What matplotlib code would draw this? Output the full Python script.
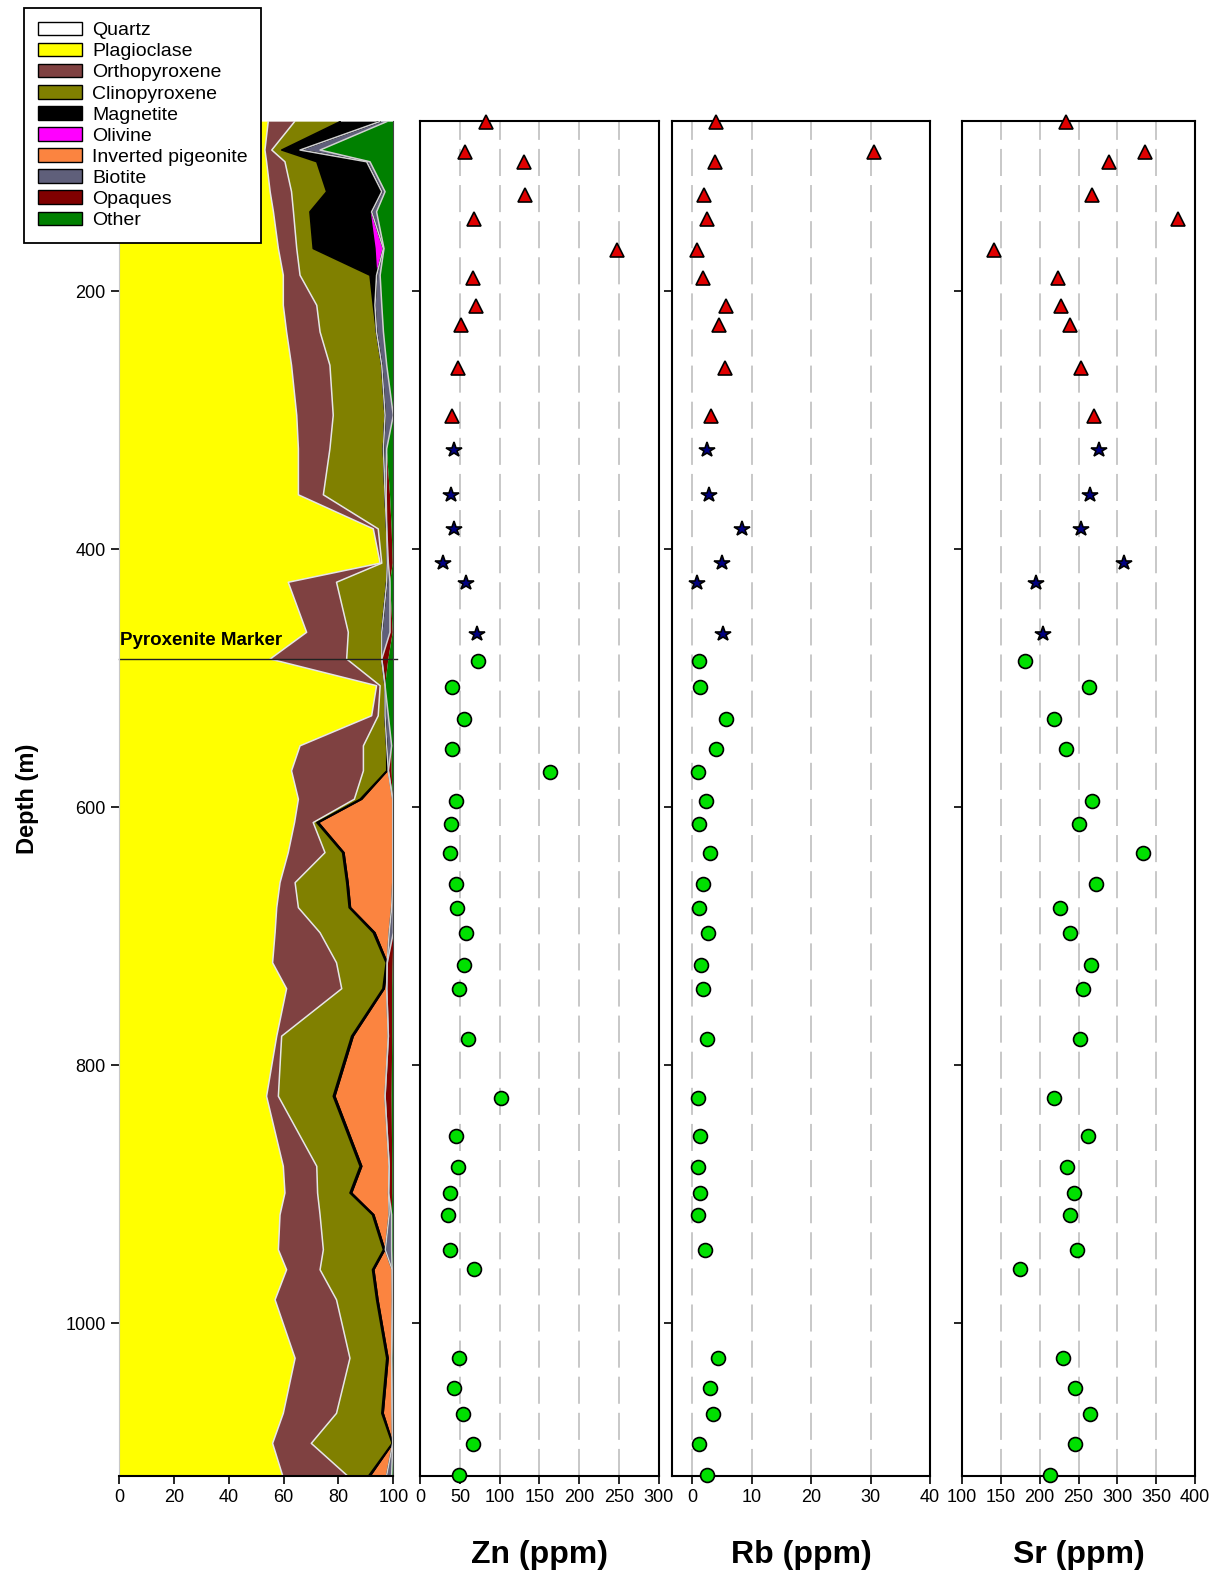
import numpy as np
import matplotlib
matplotlib.use("Agg")
import matplotlib.pyplot as plt
from matplotlib.patches import Patch

plt.rcParams['font.family'] = ['Liberation Sans', 'DejaVu Sans']

# ---- modal mineralogy (vol %) ----
modal_depth = [68.5, 90.5, 99.6, 122.8, 138.4, 166.9, 187.6, 210.9, 231.5, 257.4,
               296.2, 322.1, 357.8, 384.2, 410.8, 425.6, 464.4, 485.1, 505.8, 529.1,
               552.4, 571.8, 593.8, 611.9, 635.2, 658.5, 677.9, 697.3, 720.6, 740.7,
               777.5, 824.1, 878.4, 899.1, 916.0, 943.1, 958.6, 981.9, 1027.2, 1069.9,
               1093.2, 1117.8]
quartz = [0, 0, 0, 0, 0, 0, 0, 0, 0, 0, 0, 0, 0, 0, 0, 0, 0, 0, 0, 0, 0,
          0, 0, 0, 0, 0, 0, 0, 0, 0, 0, 0, 0, 0, 0, 0, 0, 0, 0, 0, 0, 0]
plag = [54.4, 53.2, 53.8, 55.1, 56.3, 58.1, 59.9, 59.9, 61.1, 62.9, 64.8, 65.4, 65.4, 92.7,
        95.2, 61.7, 68.4, 55.1, 93.9, 92.1, 66.0, 62.9, 65.4, 64.0, 61.7, 58.7, 57.5, 56.9,
        56.0, 61.1, 57.5, 53.8, 59.9, 60.5, 58.7, 58.1, 61.1, 56.9, 64.2, 59.9, 56.0, 59.6]
opx = [9.6, 2.5, 6.7, 7.8, 7.3, 6.7, 6.1, 12.2, 12.2, 14.0, 13.3, 11.5, 9.1, 1.8,
       0.6, 17.6, 15.2, 27.9, 1.3, 2.4, 23.1, 26.2, 20.4, 6.8, 13.4, 5.5, 7.9, 16.4,
       23.3, 20.1, 1.8, 4.3, 12.2, 11.9, 14.6, 16.4, 12.2, 22.4, 20.0, 19.4, 14.1, 23.4]
cpx = [16.6, 3.6, 11.6, 12.8, 6.0, 6.0, 25.5, 20.6, 20.6, 18.9, 18.9, 19.5, 22.5, 3.1,
       2.0, 18.3, 12.2, 12.8, 1.8, 2.5, 8.5, 8.5, 2.1, 1.3, 6.4, 18.8, 18.5, 19.4,
       18.1, 15.0, 25.5, 20.0, 15.8, 11.8, 19.1, 21.9, 19.1, 14.6, 13.4, 16.5, 29.5, 8.2]
magnetite = [14.4, 6.7, 18.2, 20.1, 21.9, 22.5, 2.4, 0.6, 0, 0, 0, 0, 0, 0,
             0, 0, 0, 0, 0, 0, 0, 0.2, 0.6, 0.6, 0.5, 0.5, 0.5, 0.6,
             0.4, 0.5, 0.6, 0.6, 0.6, 0.6, 0.5, 0.5, 0.5, 0.5, 0.5, 0.5, 0.2, 0.6]
olivine = [0, 0, 0, 0, 0.6, 3.1, 0, 0, 0, 0, 0, 0, 0, 0, 0, 0, 0, 0, 0, 0, 0,
           0, 0, 0, 0, 0, 0, 0, 0, 0, 0, 0, 0, 0, 0, 0, 0, 0, 0, 0, 0, 0]
pigeonite = [0, 0, 0, 0, 0, 0, 0, 0, 0, 0, 0, 0, 0, 0,
             0, 0, 0, 0, 0, 0, 0, 0.4, 11.3, 27.1, 17.8, 16.3, 15.0, 5.2,
             0, 0.9, 12.8, 18.3, 10.0, 13.5, 5.6, 0.2, 6.7, 5.3, 1.3, 3.3, 0, 5.8]
biotite = [2.6, 7.3, 1.2, 1.2, 1.8, 0.2, 1.3, 2.5, 2.5, 1.8, 3.0, 1.2, 0.4, 0,
           0.4, 1.2, 3.0, 0, 0, 1.2, 1.8, 0, 0, 0, 0, 0, 0.6, 1.5,
           0, 0, 0, 0, 0, 0, 0.9, 2.3, 0, 0, 0, 0, 0, 1.8]
opaques = [0, 0, 0, 0, 0, 0, 0, 0, 0, 0, 0, 0, 1.4, 1.8,
           1.6, 0, 1.0, 2.4, 0, 0, 0, 1.2, 0, 0, 0, 0, 0, 0,
           2.0, 2.0, 1.4, 2.4, 1.1, 1.3, 0, 0, 0, 0, 0, 0, 0, 0]
other = [2.4, 26.7, 8.5, 3.0, 6.1, 3.4, 4.8, 4.2, 3.6, 2.4, 0, 2.4, 1.2, 0.6,
         0.2, 1.2, 0.2, 1.8, 3.0, 1.8, 0.6, 0.6, 0.2, 0.2, 0.2, 0.2, 0, 0,
         0.2, 0.4, 0.4, 0.6, 0.4, 0.4, 0.6, 0.6, 0.4, 0.3, 0.6, 0.4, 0.2, 0.6]
marker_depth = 485.1

# ---- whole-rock trace elements (ppm) ----
depth = [68.5, 92.3, 99.5, 125.5, 143.6, 168.0, 189.6, 211.3, 226.4, 259.5, 296.7,
         322.9, 357.8, 384.2, 410.8, 426.4, 465.7,
         486.4, 506.6, 531.9, 555.0, 572.6, 595.1, 612.7, 635.7, 659.2, 677.9, 697.3,
         722.6, 740.7, 779.9, 825.4, 855.2, 878.7, 899.1, 916.2, 942.9, 958.4, 1027.0,
         1050.4, 1070.2, 1093.5, 1117.8]
group = ['tri'] * 11 + ['star'] * 6 + ['circ'] * 26
zn = [83, 56, 130, 132, 68, 248, 66, 70, 51, 48, 40,
      42, 39, 43, 29, 58, 71,
      73, 40, 55, 40, 163, 45, 39, 37, 45, 46, 58, 55, 49, 60, 102, 45, 48, 38, 35,
      38, 68, 49, 42, 54, 67, 49]
rb = [3.9, 30.5, 3.8, 2.0, 2.5, 0.7, 1.7, 5.6, 4.5, 5.5, 3.1,
      2.5, 2.7, 8.4, 4.9, 0.8, 5.2,
      1.1, 1.2, 5.6, 4.0, 1.0, 2.2, 1.1, 3.0, 1.7, 1.1, 2.6, 1.5, 1.7, 2.4, 0.9,
      1.2, 0.9, 1.3, 1.0, 2.1, np.nan, 4.3, 3.0, 3.5, 1.1, 2.4]
sr = [234, 335, 289, 267, 378, 141, 223, 227, 239, 253, 270,
      277, 265, 253, 308, 195, 204,
      181, 263, 218, 234, np.nan, 268, 250, 333, 272, 226, 239, 266, 256, 252, 219,
      262, 235, 244, 239, 248, 175, 230, 246, 265, 245, 213]

names = ['Quartz', 'Plagioclase', 'Orthopyroxene', 'Clinopyroxene', 'Magnetite', 'Olivine',
         'Inverted pigeonite', 'Biotite', 'Opaques', 'Other']
colors = ['#ffffff', '#ffff00', '#7f4141', '#808000', '#000000', '#ff00ff',
          '#fb8440', '#5f5f7a', '#800000', '#008000']
edges = ['none', 'none', '#e6e6e6', 'none', '#000000', 'none',
         '#000000', '#d0d0d0', 'none', 'none']
layers = [quartz, plag, opx, cpx, magnetite, olivine, pigeonite, biotite, opaques, other]

W, H = 1221, 1579
fig = plt.figure(figsize=(W / 100, H / 100), dpi=100)

top, bot = 121, 1476
ylim = (1118.5, 68.0)
yticks = [200, 400, 600, 800, 1000]


def box(x0, x1):
    return [x0 / W, 1 - bot / H, (x1 - x0) / W, (bot - top) / H]


# ---- modal panel ----
ax0 = fig.add_axes(box(119, 393.3))
d = np.array(modal_depth)
left = np.zeros(len(d))
for name, col, ec, vals in zip(names, colors, edges, layers):
    right = left + np.array(vals, dtype=float)
    ax0.fill_betweenx(d, left, right, facecolor=col, edgecolor='none', lw=0)
    if ec != 'none':
        ax0.plot(left, d, color=ec, lw=1.1)
        ax0.plot(right, d, color=ec, lw=1.1)
    left = right
ax0.plot([0, 101.5], [marker_depth, marker_depth], color='#222222', lw=1, clip_on=False)
ax0.text(0.5, marker_depth - 8, 'Pyroxenite Marker', fontsize=13.5, fontweight='bold',
         ha='left', va='bottom')
ax0.set_xlim(0, 100)
ax0.set_ylim(*ylim)
ax0.set_xticks([0, 20, 40, 60, 80, 100])
ax0.set_yticks(yticks)
ax0.spines['top'].set_visible(False)
ax0.spines['left'].set_color('#c8c8c8')
ax0.spines['right'].set_color('#444444')
ax0.spines['bottom'].set_linewidth(1.5)
ax0.tick_params(direction='out', length=6, width=1.2, labelsize=13)
ax0.tick_params(axis='y', labelsize=13)
ax0.set_ylabel('Depth (m)', fontsize=17, fontweight='bold', labelpad=19)

# ---- geochemistry panels ----
styles = {'tri': dict(marker='^', color='#e00000', ms=10.5),
          'star': dict(marker='*', color='#000080', ms=11.5),
          'circ': dict(marker='o', color='#00e000', ms=10)}
panels = [(zn, (420.3, 658.5), (0, 300), [0, 50, 100, 150, 200, 250, 300], 'Zn (ppm)'),
          (rb, (672.3, 930), (-3.4, 40), [0, 10, 20, 30, 40], 'Rb (ppm)'),
          (sr, (962, 1195), (100, 400), [100, 150, 200, 250, 300, 350, 400], 'Sr (ppm)')]

g = np.array(group)
dep = np.array(depth)
for vals, (x0, x1), xl, xt, label in panels:
    ax = fig.add_axes(box(x0, x1))
    v = np.array(vals, dtype=float)
    for gx in xt[:-1]:
        if gx > xl[0]:
            ax.axvline(gx, color='#c4c4c4', lw=1.3, ls=(0, (15, 5)), zorder=0)
    for key, st in styles.items():
        m = g == key
        ax.plot(v[m], dep[m], ls='none', marker=st['marker'], ms=st['ms'],
                mfc=st['color'], mec='black', mew=1.2, clip_on=False, zorder=3)
    ax.set_xlim(*xl)
    ax.set_ylim(*ylim)
    ax.set_xticks(xt)
    ax.set_yticks(yticks)
    ax.set_yticklabels([])
    for s in ax.spines.values():
        s.set_linewidth(1.5)
    ax.tick_params(direction='out', length=6, width=1.2, labelsize=13)
    ax.set_xlabel(label, fontsize=23, fontweight='bold', labelpad=24)

# ---- legend ----
handles = [Patch(facecolor=c, edgecolor='black', lw=1) for c in colors]
leg = fig.legend(handles, names, loc='upper left', bbox_to_anchor=(24 / W, 1 - 8 / H),
                 borderaxespad=0, fontsize=14, frameon=True, fancybox=False,
                 edgecolor='black', framealpha=1, handlelength=2.3, handleheight=0.7,
                 labelspacing=0.18, handletextpad=0.5, borderpad=0.7)
leg.get_frame().set_linewidth(1.3)

plt.savefig('out.png', dpi=100)
